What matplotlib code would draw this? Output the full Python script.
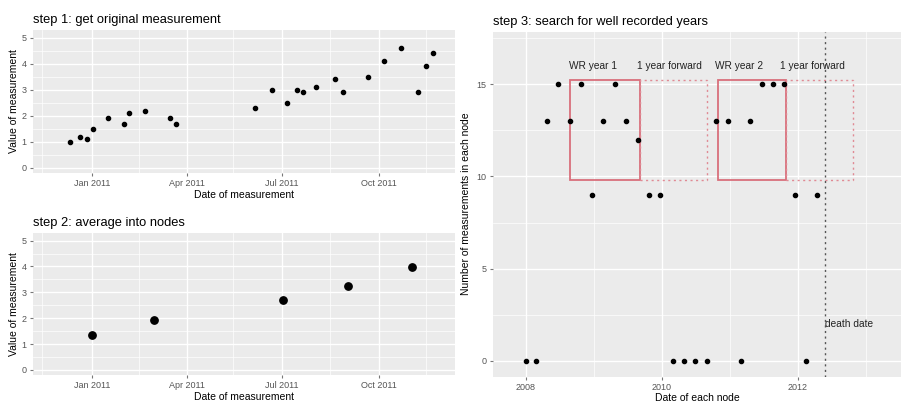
import matplotlib.pyplot as plt
import matplotlib.dates as mdates
from matplotlib.patches import Rectangle
from matplotlib.ticker import MultipleLocator
import pandas as pd

plt.rcParams['font.family'] = ['Liberation Sans', 'DejaVu Sans']

# step 1: raw measurements
raw_dates = ['2010-12-11', '2010-12-21', '2010-12-27', '2011-01-02', '2011-01-16',
             '2011-02-01', '2011-02-05', '2011-02-21', '2011-03-16', '2011-03-22',
             '2011-06-05', '2011-06-21', '2011-07-06', '2011-07-15', '2011-07-21',
             '2011-08-02', '2011-08-20', '2011-08-28', '2011-09-21', '2011-10-06',
             '2011-10-22', '2011-11-07', '2011-11-15', '2011-11-21']
raw_values = [1.0, 1.2, 1.1, 1.5, 1.9, 1.7, 2.1, 2.2, 1.9, 1.7,
              2.3, 3.0, 2.5, 3.0, 2.9, 3.1, 3.4, 2.9, 3.5, 4.1,
              4.6, 2.9, 3.9, 4.4]

# step 2: node averages
node_dates = ['2011-01-01', '2011-03-01', '2011-07-02', '2011-09-02', '2011-11-01']
node_values = [1.33, 1.92, 2.72, 3.23, 3.98]

# step 3: measurement counts per node
count_dates = ['2008-01-01', '2008-02-25', '2008-04-22', '2008-06-24', '2008-08-25',
               '2008-10-23', '2008-12-24', '2009-02-21', '2009-04-23', '2009-06-24',
               '2009-08-25', '2009-10-23', '2009-12-20', '2010-03-03', '2010-04-27',
               '2010-06-28', '2010-09-02', '2010-10-19', '2010-12-20', '2011-02-28',
               '2011-04-20', '2011-06-21', '2011-08-22', '2011-10-16', '2011-12-16',
               '2012-02-14', '2012-04-12']
count_values = [0, 0, 13, 15, 13, 15, 9, 13, 15, 13, 12, 9, 9, 0, 0,
                0, 0, 13, 13, 0, 13, 15, 15, 15, 9, 0, 9]

wr_starts = ['2008-08-25', '2010-10-30']
wr_ends = ['2009-09-05', '2011-10-30']
fwd_ends = ['2010-08-29', '2012-10-23']
box_low, box_high = 9.8, 15.2
box_labels = ['WR year 1', '1 year forward', 'WR year 2', '1 year forward']
label_dates = ['2008-12-28', '2010-02-10', '2011-02-20', '2012-03-17']
death_date = '2012-05-26'

BG = '#EBEBEB'
TICK = '#555555'


def gg_style(ax):
    ax.set_facecolor(BG)
    for s in ax.spines.values():
        s.set_visible(False)
    ax.grid(which='major', color='white', linewidth=1.0)
    ax.grid(which='minor', color='white', linewidth=0.5)
    ax.set_axisbelow(True)
    ax.tick_params(which='major', length=2.5, color='#777777', labelsize=6.5, labelcolor=TICK, pad=2)
    ax.tick_params(which='minor', length=0)


def date_axis(ax):
    ax.xaxis.set_major_locator(mdates.MonthLocator(bymonth=[1, 4, 7, 10]))
    ax.xaxis.set_major_formatter(mdates.DateFormatter('%b %Y'))
    ax.xaxis.set_minor_locator(mdates.MonthLocator(bymonth=[2, 5, 8, 11], bymonthday=15))
    ax.set_xlim(pd.Timestamp('2010-11-06'), pd.Timestamp('2011-12-12'))
    ax.set_ylim(-0.2, 5.3)
    ax.yaxis.set_major_locator(MultipleLocator(1))
    ax.yaxis.set_minor_locator(MultipleLocator(0.5))


fig = plt.figure(figsize=(9.01, 4.05), dpi=100)

ax1 = fig.add_axes([0.0366, 0.573, 0.468, 0.353])
gg_style(ax1)
date_axis(ax1)
ax1.scatter(pd.to_datetime(raw_dates), raw_values, s=9, color='black', zorder=3)
ax1.set_title('step 1: get original measurement', loc='left', fontsize=9.3, pad=5)
ax1.set_xlabel('Date of measurement', fontsize=7.5, labelpad=1)
ax1.set_ylabel('Value of measurement', fontsize=7.5, labelpad=2)

ax2 = fig.add_axes([0.0366, 0.074, 0.468, 0.351])
gg_style(ax2)
date_axis(ax2)
ax2.scatter(pd.to_datetime(node_dates), node_values, s=28, color='black', zorder=3)
ax2.set_title('step 2: average into nodes', loc='left', fontsize=9.3, pad=5)
ax2.set_xlabel('Date of measurement', fontsize=7.5, labelpad=1)
ax2.set_ylabel('Value of measurement', fontsize=7.5, labelpad=2)

ax3 = fig.add_axes([0.547, 0.070, 0.453, 0.852])
gg_style(ax3)
ax3.xaxis.set_major_locator(mdates.YearLocator(2))
ax3.xaxis.set_major_formatter(mdates.DateFormatter('%Y'))
ax3.set_xticks([pd.Timestamp(y) for y in ['2009-01-01', '2011-01-01', '2013-01-01']], minor=True)
ax3.set_xlim(pd.Timestamp('2007-07-08'), pd.Timestamp('2013-07-08'))
ax3.set_ylim(-0.85, 17.85)
ax3.yaxis.set_major_locator(MultipleLocator(5))
ax3.yaxis.set_minor_locator(MultipleLocator(2.5))
ax3.scatter(pd.to_datetime(count_dates), count_values, s=9, color='black', zorder=3)

for s, e, f in zip(wr_starts, wr_ends, fwd_ends):
    s, e, f = mdates.date2num(pd.Timestamp(s)), mdates.date2num(pd.Timestamp(e)), mdates.date2num(pd.Timestamp(f))
    ax3.add_patch(Rectangle((s, box_low), e - s, box_high - box_low, fill=False,
                            edgecolor='#d9707c', linewidth=1.3, zorder=2))
    ax3.add_patch(Rectangle((e, box_low), f - e, box_high - box_low, fill=False,
                            edgecolor='#e08a94', linewidth=1.0, linestyle=(0, (1.5, 2.5)), zorder=2))

for lab, d in zip(box_labels, label_dates):
    ax3.text(pd.Timestamp(d), 16, lab, ha='center', va='center', fontsize=7.3, color='#222222')

ax3.axvline(pd.Timestamp(death_date), color='#555555', linewidth=1.0, linestyle=(0, (1.5, 2.5)), zorder=2)
ax3.text(pd.Timestamp(death_date), 2, 'death date', ha='left', va='center', fontsize=7.3, color='#222222')

ax3.set_title('step 3: search for well recorded years', loc='left', fontsize=9.3, pad=5)
ax3.set_xlabel('Date of each node', fontsize=7.5, labelpad=1)
ax3.set_ylabel('Number of measurements in each node', fontsize=7.5, labelpad=4)

fig.savefig('out.png', dpi=100)
